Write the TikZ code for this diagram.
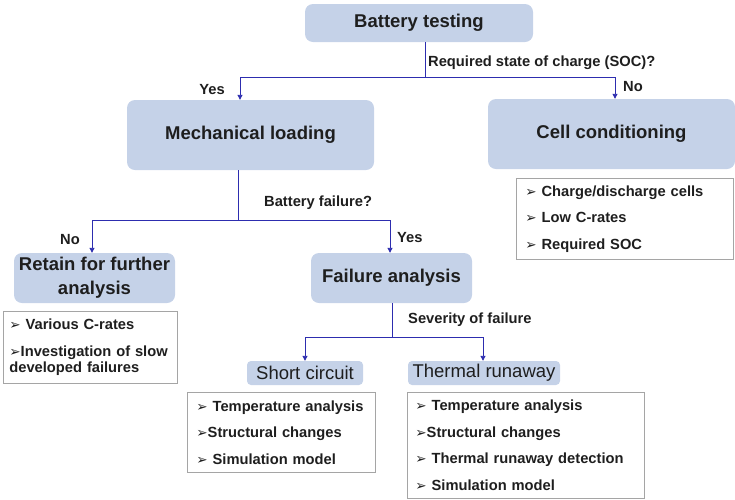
\documentclass[tikz,border=0pt]{standalone}
\usepackage{fontspec}
\setmainfont{Liberation Sans}
\newfontfamily\dvfont{DejaVu Sans}
\usetikzlibrary{arrows.meta,calc}
\definecolor{boxfill}{RGB}{197,210,232}
\definecolor{lnblue}{RGB}{45,45,175}
\definecolor{txt}{RGB}{30,30,30}
\definecolor{listedge}{RGB}{165,165,165}
\newcommand{\myarr}{{\dvfont\fontsize{13.5}{13.5}\selectfont ➢}}
\begin{document}
\begin{tikzpicture}[x=1pt,y=-1pt,
  bigbox/.style={fill=boxfill, rounded corners=8pt, text=txt, font=\fontsize{18.5}{24}\selectfont\bfseries, align=center, inner sep=0pt},
  subbox/.style={fill=boxfill, rounded corners=4pt, text=txt, font=\fontsize{18.5}{22}\selectfont, inner sep=0pt},
  listbox/.style={draw=listedge, line width=0.8pt, text=txt, font=\fontsize{14.7}{26.5}\selectfont\bfseries, align=left, anchor=north west, inner ysep=0pt},
  lbl/.style={text=txt, font=\fontsize{14.7}{16}\selectfont\bfseries, inner sep=0pt},
  conn/.style={draw=lnblue, line width=0.9pt},
  arrowc/.style={conn, -{Triangle[length=5pt,width=5pt]}},
]
\useasboundingbox (0,0) rectangle (735,499);

% main boxes
\node[bigbox, minimum width=228, minimum height=38] (bt) at (419,23) {Battery testing};
\node[bigbox, minimum width=247, minimum height=70] (ml) at (250.5,135) {Mechanical loading};
\node[bigbox, minimum width=247, minimum height=70] (cc) at (611.5,134) {Cell conditioning};
\node[bigbox, minimum width=161, minimum height=50] (rt) at (94.5,278) {Retain for further\\analysis};
\node[bigbox, minimum width=161, minimum height=50] (fa) at (391.5,278) {Failure analysis};
\node[subbox, minimum width=116, minimum height=24] (sc) at (305,373) {Short circuit};
\node[subbox, minimum width=152, minimum height=24] (tr) at (484,373) {Thermal runaway};

% list boxes
\node[listbox, text width=199pt, inner xsep=9pt, minimum height=81] (cclist) at (516,178)
  {\myarr\ Charge/discharge cells\\\myarr\ Low C-rates\\\myarr\ Required SOC};
\node[listbox, text width=162pt, inner xsep=6pt, minimum height=72, font=\fontsize{14.7}{16.5}\selectfont\bfseries] (rtlist) at (3,311)
  {\myarr\ Various C-rates\\[10.5pt]\myarr Investigation of slow\\developed failures};
\node[listbox, text width=174pt, inner xsep=7pt, minimum height=80] (sclist) at (187,392)
  {\hspace*{2pt}\myarr\ Temperature analysis\\\hspace*{2pt}\myarr Structural changes\\\hspace*{2pt}\myarr\ Simulation model};
\node[listbox, text width=221pt, inner xsep=8pt, minimum height=106] (trlist) at (407,392)
  {\myarr\ Temperature analysis\\\myarr Structural changes\\\myarr\ Thermal runaway detection\\\myarr\ Simulation model};

% labels
\node[lbl, anchor=west] (q1) at (428,63) {Required state of charge (SOC)?};
\node[lbl, anchor=west] (no1) at (623,87) {No};
\node[lbl] (yes1) at (212,90) {Yes};
\node[lbl, anchor=west] (q2) at (264,203) {Battery failure?};
\node[lbl] (no2) at (70,240) {No};
\node[lbl, anchor=west] (yes2) at (397,238) {Yes};
\node[lbl, anchor=west] (q3) at (408,320) {Severity of failure};

% connectors
\coordinate (j1) at (425,77);
\draw[conn] (bt.south -| j1) -- (j1);
\draw[arrowc] (j1) -| ([xshift=-10.5pt]ml.north);
\draw[arrowc] (j1) -| ([xshift=3.5pt]cc.north);

\coordinate (j2) at (238,220);
\draw[conn] (ml.south -| j2) -- (j2);
\draw[arrowc] (j2) -| ([xshift=-2.5pt]rt.north);
\draw[arrowc] (j2) -| ([xshift=-1.5pt]fa.north);

\coordinate (j3) at (392,337);
\draw[conn] (fa.south -| j3) -- (j3);
\draw[arrowc] (j3) -| (sc.north);
\draw[arrowc] (j3) -| ([xshift=-1pt]tr.north);
\end{tikzpicture}
\end{document}
